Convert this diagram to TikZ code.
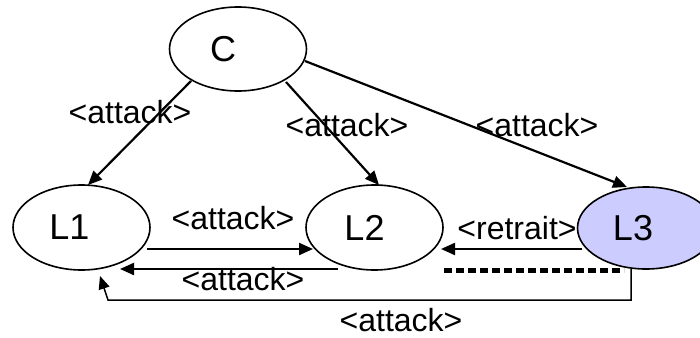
\documentclass[tikz,border=0pt]{standalone}
\usepackage{fontspec}
\setmainfont{Liberation Sans}
\usetikzlibrary{shapes.geometric,arrows.meta,calc}

\definecolor{lavender}{HTML}{CCCCFF}

\begin{document}
\begin{tikzpicture}[x=1pt,y=-1pt,
  agent/.style={ellipse,draw=black,line width=1.6pt,minimum width=137pt,
    minimum height=84pt,inner sep=0pt},
  agentname/.style={font=\fontsize{36}{40}\selectfont},
  rel/.style={font=\fontsize{32}{36}\selectfont,inner sep=0pt},
  tip/.style={-{Triangle[length=14pt,width=12pt]}},
  link/.style={tip,line width=2.2pt},
  thinlink/.style={-{Triangle[length=13pt,width=11pt]},line width=1.5pt},
  blocked/.style={line width=5pt,dash pattern=on 8pt off 4pt}]

  % page frame
  \clip (0,0) rectangle (700,337);

  % agents
  \node[agent,label={[agentname,xshift=-15pt]center:C}] (C) at (238,49) {};
  \node[agent,minimum height=85pt,label={[agentname,xshift=-12pt]center:L1}] (L1) at (81.5,227.5) {};
  \node[agent,minimum height=85pt,label={[agentname,xshift=-10pt]center:L2}] (L2) at (374.5,227.5) {};
  \node[agent,fill=lavender,minimum height=82pt,label={[agentname,xshift=-13pt]center:L3}] (L3) at (646,228) {};

  % attacks issued by C
  \draw[link] ($(C)+(-47,32)$) -- ($(L1)+(6.5,-42.5)$);
  \draw[link] ($(C)+(48,33)$) -- ($(L2)+(4.5,-42.5)$);
  \draw[link] ($(C)+(67,12)$) -- ($(L3)+(-19,-41)$);

  % exchanges between L1 and L2
  \draw[link] ($(L1)+(65.5,21.5)$) -- ($(L2)+(-61.5,21.5)$);
  \draw[link] ($(L2)+(-36.5,41.5)$) -- ($(L1)+(38.5,41.5)$);

  % L3 withdraws towards L2, blocked link below
  \draw[link] ($(L3)+(-64,21)$) -- ($(L2)+(66.5,21.5)$);
  \draw[blocked] ($(L2)+(69.5,42.5)$) -- ($(L3)+(-22,42)$);

  % L3 attacks L1 along the bottom
  \draw[thinlink] ($(L3)+(-15,41)$) -- ++(0,31) -- ++(-523,0) -- ($(L1)+(18.5,48.5)$);

  % relation labels
  \node[rel] (a1) at (130,112) {<attack>};
  \node[rel] (a2) at (347,125) {<attack>};
  \node[rel] (a3) at (537,125) {<attack>};
  \node[rel] (a4) at (233,218) {<attack>};
  \node[rel] (a5) at (243,279) {<attack>};
  \node[rel] (r6) at (517,228) {<retrait>};
  \node[rel] (a7) at (401,320) {<attack>};
\end{tikzpicture}
\end{document}
